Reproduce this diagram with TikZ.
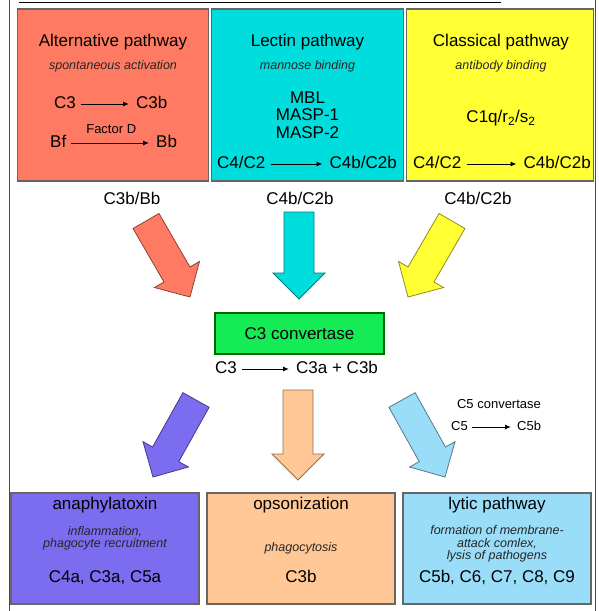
\documentclass[tikz,border=0pt]{standalone}
\usepackage{fontspec}
\setmainfont{Liberation Sans}
\usetikzlibrary{positioning,arrows.meta,calc}

\definecolor{altred}{RGB}{255,122,98}
\definecolor{lecyan}{RGB}{0,221,221}
\definecolor{clyellow}{RGB}{255,255,51}
\definecolor{convgreen}{RGB}{20,235,85}
\definecolor{anapurple}{RGB}{124,108,240}
\definecolor{opspeach}{RGB}{255,200,150}
\definecolor{lytblue}{RGB}{153,221,248}

% broad block arrow: tail, tip, colour
\newcommand{\fatarrow}[3]{%
  \coordinate (neck) at ($(#2)!26pt!(#1)$);
  \draw[fatarr, fill=#3, draw=#3!55!black]
    ($(#1)!15pt!90:(#2)$) -- ($(neck)!15pt!-90:(#1)$) -- ($(neck)!26pt!-90:(#1)$)
    -- (#2) -- ($(neck)!26pt!90:(#1)$) -- ($(neck)!15pt!90:(#1)$)
    -- ($(#1)!15pt!-90:(#2)$) -- cycle;}

\begin{document}
\begin{tikzpicture}[x=1pt, y=-1pt,
        topbox/.style={draw=black!60, line width=1.2pt, minimum width=191pt, minimum height=172pt, inner sep=0pt},
        botbox/.style={draw=black!60, line width=1.2pt, minimum width=188pt, minimum height=111pt, inner sep=0pt},
        convbox/.style={draw=green!40!black, line width=1.3pt, fill=convgreen, minimum width=169pt, minimum height=41pt, font=\fontsize{17}{18}\selectfont},
        ttl/.style={inner sep=0pt, font=\fontsize{17}{18}\selectfont, text height=12.5pt, text depth=3.5pt},
        fml/.style={inner xsep=5pt, inner ysep=0pt, font=\fontsize{17}{18}\selectfont, text height=12.5pt, text depth=3.5pt},
        lst/.style={inner sep=0pt, align=center, font=\fontsize{17}{17.5}\selectfont},
        sub/.style={inner sep=0pt, align=center, text=black!85, font=\fontsize{12.5}{12.5}\selectfont\itshape},
        sml/.style={inner xsep=4pt, inner ysep=0pt, font=\fontsize{13}{13}\selectfont, text height=9.5pt, text depth=2.7pt},
        rxn/.style={-{Latex[length=6pt,width=5pt]}, line width=1pt, shorten >=2pt},
        fatarr/.style={line width=0.8pt, line join=miter}
      ]
      \useasboundingbox (0,0) rectangle (599,611);

      % frame and cut title rule
      \draw[red, line width=1pt] (9.5,0) -- (9.5,611);
      \draw[red, line width=1pt] (595.5,0) -- (595.5,611);
      \draw[line width=1.2pt] (19,2.7) -- (501,2.7);

      % Pathways
      \node[topbox, fill=altred] (alt) at (113,95) {};
      \node[topbox, fill=lecyan, minimum width=192pt] (lec) at (307.5,95) {};
      \node[topbox, fill=clyellow, minimum width=187pt] (cla) at (500,95) {};

      \node[ttl] (altT) at (113,42) {Alternative pathway};
      \node[sub] (altS) at (113,66) {spontaneous activation};
      \node[fml, anchor=west] (altC3) at (49,104) {C3};
      \node[fml, anchor=west] (altC3b) at (131,104) {C3b};
      \draw[rxn] (altC3) -- (altC3b);
      \node[fml, anchor=west] (altBf) at (45,143) {Bf};
      \node[fml, anchor=west] (altBb) at (151,143) {Bb};
      \draw[rxn] (altBf) -- node[sml, above=6pt] (facD) {Factor D} (altBb);

      \node[ttl] (lecT) at (307.5,42) {Lectin pathway};
      \node[sub] (lecS) at (307.5,66) {mannose binding};
      \node[lst] (lecM) at (307.5,115) {MBL\\MASP-1\\MASP-2};
      \node[fml, anchor=west] (lecC4) at (212,164) {C4/C2};
      \node[fml, anchor=east] (lecC4b) at (402,164) {C4b/C2b};
      \draw[rxn] (lecC4) -- (lecC4b);

      \node[ttl] (claT) at (501,42) {Classical pathway};
      \node[sub] (claS) at (501,66) {antibody binding};
      \node[fml] (claC1) at (501,118) {C1q/r\textsubscript{2}/s\textsubscript{2}};
      \node[fml, anchor=west] (claC4) at (408,164) {C4/C2};
      \node[fml, anchor=east] (claC4b) at (596,164) {C4b/C2b};
      \draw[rxn] (claC4) -- (claC4b);

      % Products
      \node[fml] (lblAlt) at (132,200) {C3b/Bb};
      \node[fml] (lblLec) at (300,200) {C4b/C2b};
      \node[fml] (lblCla) at (478,200) {C4b/C2b};

      \coordinate (altTail) at (146,221);
      \coordinate (altTip) at (190,297);
      \coordinate (lecTail) at (299,212);
      \coordinate (lecTip) at (299,299);
      \coordinate (claTail) at (452,221);
      \coordinate (claTip) at (408,297);
      \fatarrow{altTail}{altTip}{altred}
      \fatarrow{lecTail}{lecTip}{lecyan}
      \fatarrow{claTail}{claTip}{clyellow}

      % C3 convertase
      \node[convbox] (conv) at (299.5,333.5) {C3 convertase};
      \node[fml, anchor=west] (cvC3) at (210,369) {C3};
      \node[fml, anchor=west] (cvC3ab) at (291,369) {C3a + C3b};
      \draw[rxn] (cvC3) -- (cvC3ab);

      \node[sml] (c5conv) at (499,405) {C5 convertase};
      \node[sml, anchor=west] (c5) at (447,427) {C5};
      \node[sml, anchor=west] (c5b) at (513,427) {C5b};
      \draw[rxn] (c5) -- (c5b);

      \coordinate (anaTail) at (196,400);
      \coordinate (anaTip) at (153,477);
      \coordinate (opsTail) at (298,390);
      \coordinate (opsTip) at (298,480);
      \coordinate (lytTail) at (402,400);
      \coordinate (lytTip) at (445,477);
      \fatarrow{anaTail}{anaTip}{anapurple}
      \fatarrow{opsTail}{opsTip}{opspeach}
      \fatarrow{lytTail}{lytTip}{lytblue}

      % Effects
      \node[botbox, fill=anapurple] (ana) at (105,548.5) {};
      \node[botbox, fill=opspeach] (ops) at (301,548.5) {};
      \node[botbox, fill=lytblue] (lyt) at (497,548.5) {};

      \node[ttl] (anaT) at (105,505) {anaphylatoxin};
      \node[sub] (anaS) at (105,538.5) {inflammation,\\phagocyte recruitment};
      \node[ttl] (anaC) at (105,578) {C4a, C3a, C5a};

      \node[ttl] (opsT) at (301,505) {opsonization};
      \node[sub] (opsS) at (301,548) {phagocytosis};
      \node[ttl] (opsC) at (301,578) {C3b};

      \node[ttl] (lytT) at (497,505) {lytic pathway};
      \node[sub] (lytS) at (497,544) {formation of membrane-\\attack comlex,\\lysis of pathogens};
      \node[ttl] (lytC) at (497,578) {C5b, C6, C7, C8, C9};

\end{tikzpicture}
\end{document}
